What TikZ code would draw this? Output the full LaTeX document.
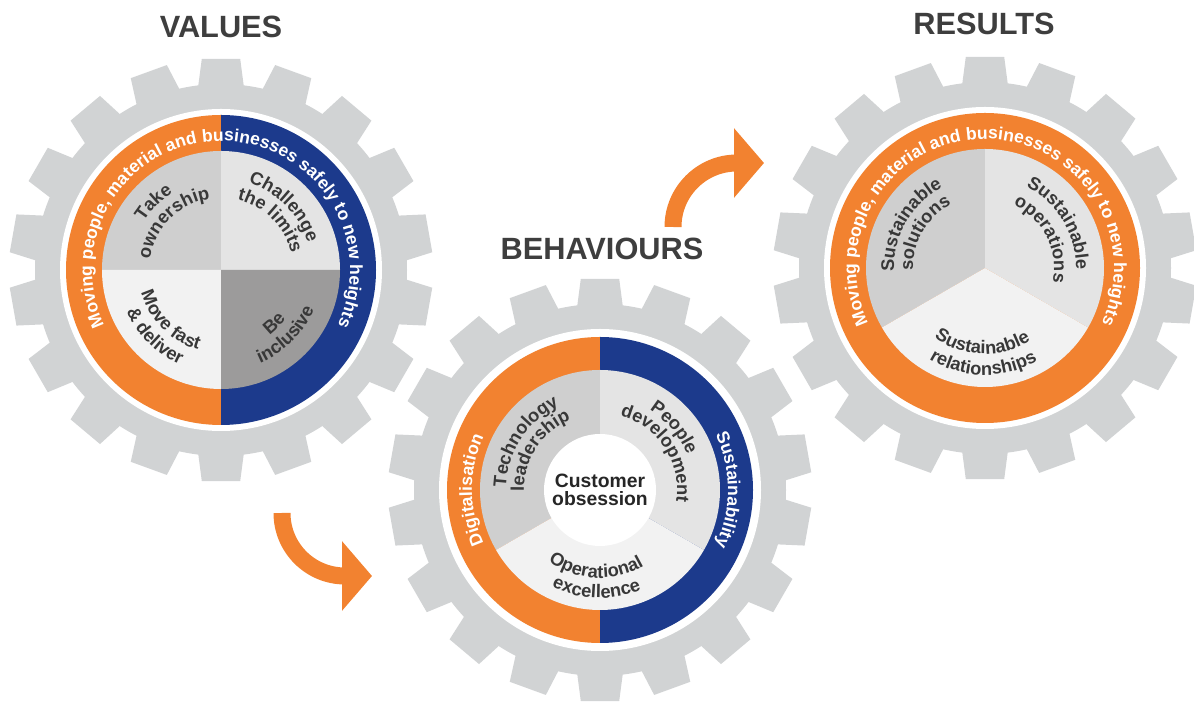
\documentclass[tikz,border=0pt]{standalone}
\usepackage{fontspec}
\setmainfont{Liberation Sans}
\usetikzlibrary{arrows.meta,decorations.text}

\definecolor{gearcol}{RGB}{209,211,212}
\definecolor{ringorange}{RGB}{242,130,48}
\definecolor{ringblue}{RGB}{28,58,140}
\definecolor{segdark}{RGB}{207,207,207}
\definecolor{segmid}{RGB}{228,228,228}
\definecolor{seglight}{RGB}{242,242,242}
\definecolor{segdeep}{RGB}{156,155,155}
\definecolor{txtgray}{RGB}{56,56,56}
\definecolor{titlegray}{RGB}{62,62,62}

\tikzset{
  title/.style={font=\fontsize{17.5}{20}\selectfont\bfseries, text=titlegray},
  flowarrow/.style={draw=ringorange, line width=0.34cm, line cap=butt,
    -{Triangle[length=0.6cm, width=1.36cm]}},
}

\newcommand{\ringfnt}{\fontsize{10}{12}\selectfont\bfseries\color{white}}
\newcommand{\segfnt}{\fontsize{10.4}{12}\selectfont\bfseries\color{txtgray}}

% text on an arc: centre, radius, from, to, text
\newcommand{\curvetext}[5]{%
  \path[shift={(#1)}, decorate,
    decoration={text along path, text align=center, text={#5}}]
    (#3:#2) arc[start angle=#3, end angle=#4, radius=#2];}

% filled wedge: centre, colour, from, to, radius
\newcommand{\wedgefill}[5]{%
  \fill[#2, shift={(#1)}] (0,0) -- (#3:#5) arc[start angle=#3, end angle=#4, radius=#5] -- cycle;}

% grey cog with 18 teeth
\newcommand{\gearwheel}[1]{%
  \begin{scope}[shift={(#1)}]
    \fill[gearcol] (0,0) circle[radius=186];
    \foreach \a in {10,30,...,350}
      \fill[gearcol] ({\a-7.5}:180) -- ({\a-5.2}:212) -- ({\a+5.2}:212) -- ({\a+7.5}:180) -- cycle;
    \fill[white] (0,0) circle[radius=161];
  \end{scope}}

\begin{document}
\begin{tikzpicture}[x=0.02cm, y=0.02cm]
  \useasboundingbox (0,0) rectangle (1194,706);
  \clip (0,0) rectangle (1194,706);

  \coordinate (values) at (221,436);
  \coordinate (behaviours) at (600,216);
  \coordinate (results) at (985,438);

  \gearwheel{values}
  \gearwheel{behaviours}
  \gearwheel{results}

  % values
  \wedgefill{values}{ringorange}{90}{270}{155}
  \wedgefill{values}{ringblue}{-90}{90}{155}
  \wedgefill{values}{segdark}{90}{180}{119}
  \wedgefill{values}{segmid}{0}{90}{119}
  \wedgefill{values}{seglight}{180}{270}{119}
  \wedgefill{values}{segdeep}{270}{360}{119}
  \curvetext{values}{129}{235}{-55}{|\ringfnt|Moving people{,} material and businesses safely to new heights}
  \curvetext{values}{91}{175}{95}{|\segfnt|Take}
  \curvetext{values}{72}{195}{75}{|\segfnt|ownership}
  \curvetext{values}{91}{100}{-10}{|\segfnt|Challenge}
  \curvetext{values}{72}{110}{-20}{|\segfnt|the limits}
  \curvetext{values}{83}{165}{285}{|\segfnt|Move fast}
  \curvetext{values}{103}{170}{280}{|\segfnt|{\&} deliver}
  \curvetext{values}{81}{-105}{15}{|\segfnt|Be}
  \curvetext{values}{101}{-100}{10}{|\segfnt|inclusive}

  % behaviours
  \wedgefill{behaviours}{ringorange}{90}{270}{153}
  \wedgefill{behaviours}{ringblue}{-90}{90}{153}
  \wedgefill{behaviours}{segdark}{90}{210}{120}
  \wedgefill{behaviours}{segmid}{-30}{90}{120}
  \wedgefill{behaviours}{seglight}{210}{330}{120}
  \fill[white] (behaviours) circle[radius=56];
  \curvetext{behaviours}{128}{240}{120}{|\ringfnt|Digitalisation}
  \curvetext{behaviours}{128}{60}{-60}{|\ringfnt|Sustainability}
  \curvetext{behaviours}{94}{207}{87}{|\segfnt|Technology}
  \curvetext{behaviours}{76}{217}{77}{|\segfnt|leadership}
  \curvetext{behaviours}{94}{100}{-20}{|\segfnt|People}
  \curvetext{behaviours}{77}{103}{-37}{|\segfnt|development}
  \curvetext{behaviours}{88}{197}{337}{|\segfnt|Operational}
  \curvetext{behaviours}{108}{208}{328}{|\segfnt|excellence}
  \node[font=\fontsize{11}{10.5}\selectfont\bfseries, text=black!85, align=center]
    (custobs) at (behaviours) {Customer\\obsession};

  % results
  \fill[ringorange] (results) circle[radius=155];
  \wedgefill{results}{segdark}{90}{210}{119}
  \wedgefill{results}{segmid}{-30}{90}{119}
  \wedgefill{results}{seglight}{210}{330}{119}
  \curvetext{results}{129}{235}{-55}{|\ringfnt|Moving people{,} material and businesses safely to new heights}
  \curvetext{results}{91}{215}{85}{|\segfnt|Sustainable}
  \curvetext{results}{72}{220}{80}{|\segfnt|solutions}
  \curvetext{results}{91}{96}{-34}{|\segfnt|Sustainable}
  \curvetext{results}{69}{107}{-53}{|\segfnt|operations}
  \curvetext{results}{86}{198}{338}{|\segfnt|Sustainable}
  \curvetext{results}{107}{199}{339}{|\segfnt|relationships}

  % titles
  \node[title] (valuesTitle) at (221,679) {VALUES};
  \node[title] (behavTitle) at (602,457) {BEHAVIOURS};
  \node[title] (resultsTitle) at (984,682) {RESULTS};

  % arrows
  \coordinate (arrAstart) at (282,193);
  \coordinate (arrAtip) at (372,130);
  \draw[flowarrow] (arrAstart) arc[start angle=180, end angle=270, radius=63] -- (arrAtip);
  \coordinate (arrBstart) at (673,479);
  \coordinate (arrBtip) at (764,543);
  \draw[flowarrow] (arrBstart) arc[start angle=180, end angle=90, radius=64] -- (arrBtip);
\end{tikzpicture}
\end{document}
